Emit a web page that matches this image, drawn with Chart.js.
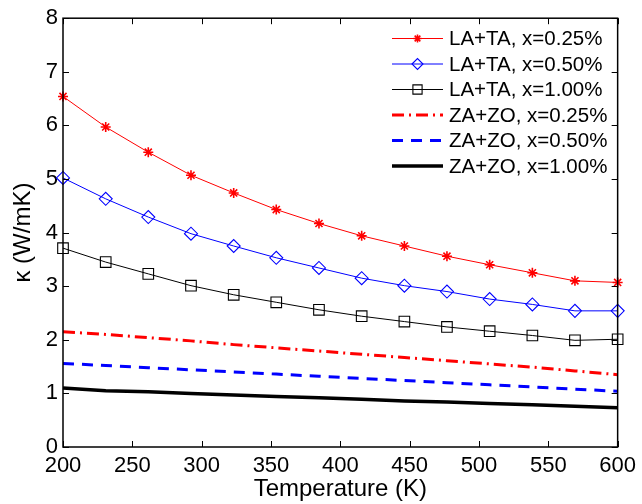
<!DOCTYPE html>
<html>
<head>
<meta charset="utf-8">
<script src="https://cdn.jsdelivr.net/npm/chart.js@4/dist/chart.umd.min.js"></script>
<style>
  body { margin: 0; background: #fff; }
  canvas { display: block; }
</style>
</head>
<body>
<canvas id="myChart" width="642" height="504"></canvas>
<script>
var temps = [200, 230.8, 261.5, 292.3, 323.1, 353.8, 384.6, 415.4, 446.2, 476.9, 507.7, 538.5, 569.2, 600];

var laTa025 = [6.54, 5.97, 5.50, 5.07, 4.74, 4.43, 4.17, 3.94, 3.75, 3.56, 3.40, 3.25, 3.10, 3.07];
var laTa050 = [5.02, 4.63, 4.29, 3.98, 3.75, 3.53, 3.34, 3.15, 3.01, 2.90, 2.76, 2.66, 2.54, 2.54];
var laTa100 = [3.71, 3.45, 3.23, 3.01, 2.84, 2.70, 2.56, 2.44, 2.34, 2.24, 2.16, 2.08, 1.99, 2.01];
var zaZo025 = [2.15, 2.10, 2.04, 1.98, 1.91, 1.85, 1.79, 1.73, 1.67, 1.61, 1.55, 1.49, 1.42, 1.35];
var zaZo050 = [1.56, 1.52, 1.48, 1.44, 1.40, 1.36, 1.32, 1.28, 1.24, 1.20, 1.16, 1.12, 1.08, 1.04];
var zaZo100 = [1.10, 1.05, 1.03, 1.00, 0.97, 0.94, 0.92, 0.89, 0.86, 0.84, 0.81, 0.79, 0.76, 0.73];

var seriesNames = ["LA+TA, x=0.25%", "LA+TA, x=0.50%", "LA+TA, x=1.00%",
                   "ZA+ZO, x=0.25%", "ZA+ZO, x=0.50%", "ZA+ZO, x=1.00%"];

var xTicks = [200, 250, 300, 350, 400, 450, 500, 550, 600];
var yTicks = [0, 1, 2, 3, 4, 5, 6, 7, 8];

var FONT = "'Liberation Sans', Arial, Helvetica, sans-serif";

function pairs(values) {
    return values.map(function (v, i) { return { x: temps[i], y: v }; });
}

function makeSet(label, values, color, width, dash, style, radius, pw) {
    return {
        label: label,
        data: pairs(values),
        borderColor: color,
        backgroundColor: "rgba(0,0,0,0)",
        borderWidth: width,
        borderDash: dash,
        pointStyle: style || false,
        pointRadius: radius || 0,
        pointBorderColor: color,
        pointBackgroundColor: "rgba(0,0,0,0)",
        pointBorderWidth: pw || 1.1,
        tension: 0,
        clip: false
    };
}

// matlab style box with inward ticks, plus the legend in the top right
var boxPlugin = {
    id: "boxPlugin",
    afterDraw: function (chart) {
        var ctx = chart.ctx;
        var a = chart.chartArea;
        var xs = chart.scales.x, ys = chart.scales.y;
        ctx.save();
        ctx.strokeStyle = "#000";
        ctx.lineWidth = 1.5;
        ctx.strokeRect(a.left, a.top, a.right - a.left, a.bottom - a.top);
        ctx.lineWidth = 1;
        ctx.beginPath();
        xTicks.forEach(function (t) {
            var px = Math.round(xs.getPixelForValue(t)) + 0.5;
            ctx.moveTo(px, a.bottom); ctx.lineTo(px, a.bottom - 6);
            ctx.moveTo(px, a.top); ctx.lineTo(px, a.top + 6);
        });
        yTicks.forEach(function (t) {
            var py = Math.round(ys.getPixelForValue(t)) + 0.5;
            ctx.moveTo(a.left, py); ctx.lineTo(a.left + 6, py);
            ctx.moveTo(a.right, py); ctx.lineTo(a.right - 6, py);
        });
        ctx.stroke();

        // legend
        var x0 = 392, x1 = 443, tx = 449;
        ctx.font = "20.5px " + FONT;
        ctx.textBaseline = "middle";
        ctx.fillStyle = "#000";
        chart.data.datasets.forEach(function (ds, i) {
            var y = 38.5 + i * 25.5;
            ctx.save();
            ctx.strokeStyle = ds.borderColor;
            ctx.lineWidth = ds.borderWidth;
            ctx.setLineDash(ds.borderDash || []);
            ctx.beginPath();
            ctx.moveTo(x0, y); ctx.lineTo(x1, y);
            ctx.stroke();
            ctx.restore();
            if (ds.pointStyle) {
                ctx.save();
                ctx.strokeStyle = ds.pointBorderColor;
                ctx.fillStyle = "rgba(0,0,0,0)";
                ctx.lineWidth = ds.pointBorderWidth;
                Chart.helpers.drawPoint(ctx, { pointStyle: ds.pointStyle, radius: ds.pointRadius - 1, borderWidth: ds.pointBorderWidth, rotation: 0 }, (x0 + x1) / 2, y);
                ctx.restore();
            }
            ctx.fillText(ds.label, tx, y + 1);
        });
        ctx.restore();
    }
};

new Chart("myChart", {
    type: "line",
    data: {
        datasets: [
            makeSet(seriesNames[0], laTa025, "#ff0000", 1, [], "star", 5, 1.6),
            makeSet(seriesNames[1], laTa050, "#0000ff", 1, [], "rectRot", 6.5),
            makeSet(seriesNames[2], laTa100, "#000000", 1, [], "rect", 7.5),
            makeSet(seriesNames[3], zaZo025, "#ff0000", 3, [12, 5, 2, 5]),
            makeSet(seriesNames[4], zaZo050, "#0000ff", 3, [11, 8]),
            makeSet(seriesNames[5], zaZo100, "#000000", 3.5, [])
        ]
    },
    options: {
        responsive: false,
        animation: false,
        layout: { padding: { left: 0, right: 21, top: 13, bottom: 0 } },
        plugins: {
            legend: { display: false },
            tooltip: { enabled: false }
        },
        scales: {
            x: {
                type: "linear",
                min: 200,
                max: 600,
                afterBuildTicks: function (s) { s.ticks = xTicks.map(function (v) { return { value: v }; }); },
                afterFit: function (s) { s.height = 57; },
                grid: { display: false, drawTicks: false },
                border: { display: false },
                ticks: { color: "#000", padding: 6, maxRotation: 0, autoSkip: false, font: { family: FONT, size: 22 } },
                title: { display: true, text: "Temperature (K)", color: "#000", padding: { top: 0, bottom: 0 }, font: { family: FONT, size: 24 } }
            },
            y: {
                min: 0,
                max: 8,
                afterBuildTicks: function (s) { s.ticks = yTicks.map(function (v) { return { value: v }; }); },
                afterFit: function (s) { s.width = 63; },
                grid: { display: false, drawTicks: false },
                border: { display: false },
                ticks: { color: "#000", padding: 5, font: { family: FONT, size: 22 } },
                title: { display: true, text: "κ (W/mK)", color: "#000", padding: { top: 9, bottom: 0 }, font: { family: FONT, size: 24 } }
            }
        }
    },
    plugins: [boxPlugin]
});
</script>
</body>
</html>
